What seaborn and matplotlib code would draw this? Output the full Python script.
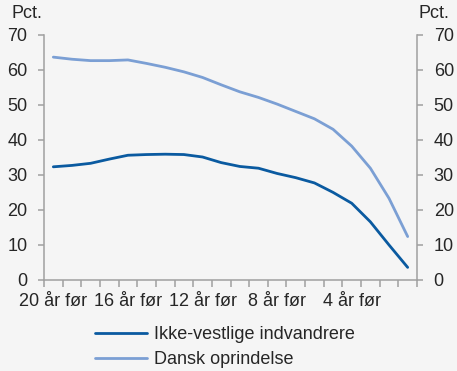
import numpy as np
import pandas as pd
import matplotlib
matplotlib.use('Agg')
import matplotlib.pyplot as plt
import seaborn as sns

# years before the event, read left to right
years_before = list(range(20, 0, -1))

# share in pct.
ikke_vestlige = [32.3, 32.7, 33.3, 34.5, 35.6, 35.8, 35.9, 35.8, 35.1, 33.5,
                 32.4, 31.9, 30.4, 29.2, 27.7, 25.0, 21.9, 16.6, 10.0, 3.6]
dansk = [63.6, 63.0, 62.6, 62.6, 62.8, 61.8, 60.7, 59.4, 57.8, 55.7,
         53.7, 52.1, 50.2, 48.1, 46.0, 43.0, 38.2, 31.9, 23.3, 12.4]

series_names = ['Ikke-vestlige indvandrere', 'Dansk oprindelse']
label_years = [20, 16, 12, 8, 4]
y_ticks = [0, 10, 20, 30, 40, 50, 60, 70]

df = pd.concat([
    pd.DataFrame({'aar': years_before, 'pct': ikke_vestlige, 'gruppe': series_names[0]}),
    pd.DataFrame({'aar': years_before, 'pct': dansk, 'gruppe': series_names[1]}),
])

sns.set_theme(style='white')
plt.rcParams['font.family'] = ['Liberation Sans', 'DejaVu Sans']

fs = 13
bg = '#f5f5f5'
axis_grey = '#a0a0a0'
palette = {series_names[0]: '#0a5aa0', series_names[1]: '#7b9fd4'}

fig = plt.figure(figsize=(4.57, 3.71), dpi=100, facecolor=bg)
ax = fig.add_axes([44 / 457, 1 - 280 / 371, (417 - 44) / 457, (280 - 34.7) / 371])
ax.set_facecolor(bg)

sns.lineplot(data=df, x='aar', y='pct', hue='gruppe', palette=palette,
             linewidth=2, ax=ax, legend=False)

ax.set_xlim(20.5, 0.5)
ax.set_ylim(0, 70)
ax.set_xlabel('')
ax.set_ylabel('')

# category boundaries as tick marks, labels on category centres
ax.set_xticks(np.arange(0.5, 21, 1))
ax.set_xticklabels([])
ax.set_xticks(label_years, minor=True)
ax.set_xticklabels([f'{y} år før' for y in label_years], minor=True)
ax.tick_params(axis='x', which='major', direction='out', length=5,
               color=axis_grey, width=1.1, bottom=True)
ax.tick_params(axis='x', which='minor', length=0, pad=9, labelsize=fs)

ax.set_yticks(y_ticks)
ax.tick_params(axis='y', direction='out', length=4, color=axis_grey, width=1.1,
               left=True, pad=8, labelsize=fs)

for side in ['top', 'right']:
    ax.spines[side].set_visible(False)
for side in ['left', 'bottom']:
    ax.spines[side].set_color(axis_grey)
    ax.spines[side].set_linewidth(1.1)

ax2 = ax.twinx()
ax2.set_ylim(0, 70)
ax2.set_yticks(y_ticks)
ax2.tick_params(axis='y', direction='out', length=4, color=axis_grey, width=1.1,
                right=True, pad=8, labelsize=fs)
for side in ['top', 'left', 'bottom']:
    ax2.spines[side].set_visible(False)
ax2.spines['right'].set_color(axis_grey)
ax2.spines['right'].set_linewidth(1.1)

fig.text(42 / 457, 1 - 13 / 371, 'Pct.', ha='right', va='center', fontsize=fs)
fig.text(419 / 457, 1 - 13 / 371, 'Pct.', ha='left', va='center', fontsize=fs)

handles = [plt.Line2D([], [], color=palette[n], linewidth=2) for n in series_names]
fig.legend(handles, series_names, loc='upper left',
           bbox_to_anchor=(95 / 457, 1 - 326 / 371), frameon=False,
           handlelength=2.9, handletextpad=0.35, labelspacing=0.45, fontsize=fs,
           borderaxespad=0, borderpad=0)

fig.savefig('out.png', dpi=100, facecolor=bg)
